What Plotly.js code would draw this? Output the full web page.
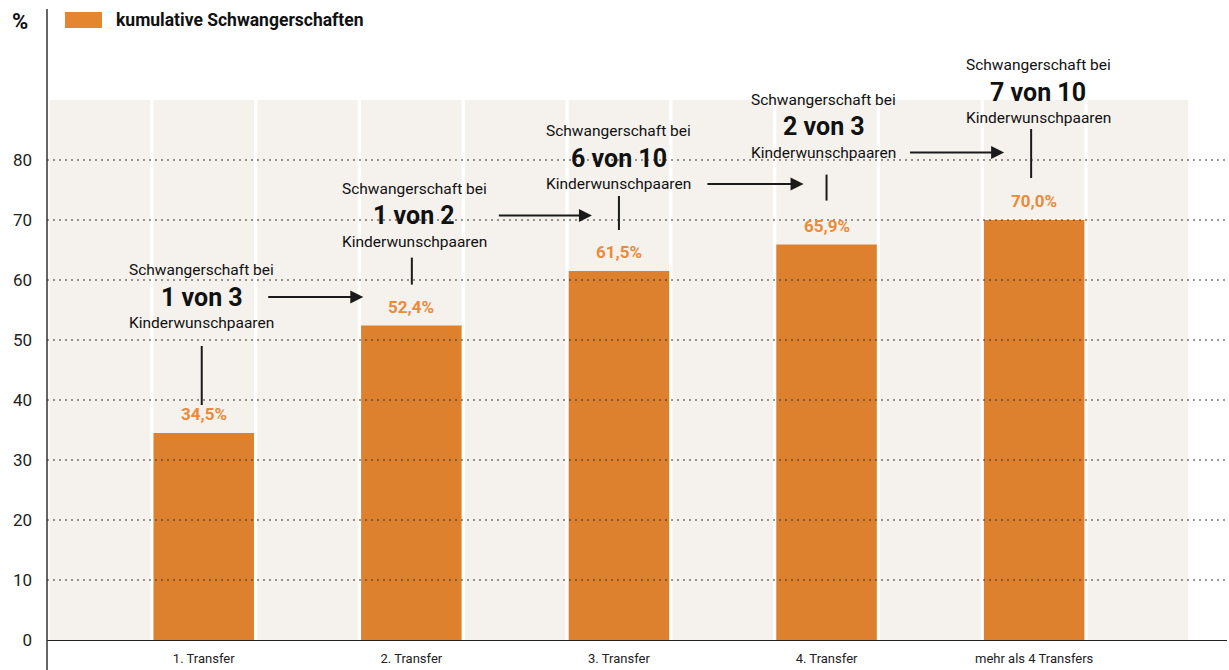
<!DOCTYPE html>
<html>
<head>
<meta charset="utf-8">
<script src="https://cdn.plot.ly/plotly-3.0.1.min.js"></script>
<style>html,body{margin:0;padding:0;background:#fff;}#chart{width:1229px;height:670px;}</style>
</head>
<body>
<div id="chart"></div>
<script>
// ---- data ----
const categories = ['1. Transfer', '2. Transfer', '3. Transfer', '4. Transfer', 'mehr als 4 Transfers'];
const values = [34.5, 52.4, 61.5, 65.9, 70.0];
const valueLabels = ['34,5%', '52,4%', '61,5%', '65,9%', '70,0%'];
const calloutTop = ['Schwangerschaft bei', 'Schwangerschaft bei', 'Schwangerschaft bei', 'Schwangerschaft bei', 'Schwangerschaft bei'];
const calloutBold = ['1 von 3', '1 von 2', '6 von 10', '2 von 3', '7 von 10'];
const calloutBottom = ['Kinderwunschpaaren', 'Kinderwunschpaaren', 'Kinderwunschpaaren', 'Kinderwunschpaaren', 'Kinderwunschpaaren'];
const yTickVals = [0, 10, 20, 30, 40, 50, 60, 70, 80];
const seriesName = 'kumulative Schwangerschaften';
const unitLabel = '%';

// ---- layout / style (pixels) ----
const W = 1229, H = 670;
const M = {l: 47, r: 2, t: 9, b: 30};
const plotW = W - M.l - M.r, plotH = H - M.t - M.b;
const xRange = [-0.755, 4.929];
const pxPerY = 6;
const yRange = [0, plotH / pxPerY];
const pxPerX = plotW / (xRange[1] - xRange[0]);
const bgTop = 90;
const colWidth = 0.484;
const barColor = '#DD812F';
const labelColor = '#E98B3A';
const beige = '#F5F2ED';
const ink = '#1a1a1a';
const FONT = 'Roboto, "Liberation Sans", sans-serif';

// callout geometry (pixels above bar top)
const boldLift = [136, 110, 113, 118, 128];
const textXShift = [-2, 3, 0, -3, 4];
const stemXShift = [-2, 0.5, 0, 0, -3];
const stemTop = [87, 68, 75, 70, 91];
const stemBottom = [28, 41, 41, 44, 42];
const arrowRow = ['bold', 'bold', 'bottom', 'bottom'];
const arrowTail = [63, 86, 87, 82];   // px right of bar centre
const arrowTip = [-48, -27, -23, -30]; // px relative to next bar centre

const pxX = p => (p - M.l) / plotW;
const pxY = p => (H - M.b - p) / plotH;

const shapes = [];
const annotations = [];

// beige background columns
for (let k = 0; k <= 10; k++) {
  const c = -0.5 + 0.5 * k;
  shapes.push({type: 'rect', layer: 'below', xref: 'x', yref: 'y',
    x0: c - colWidth / 2, x1: c + colWidth / 2, y0: 0, y1: bgTop,
    fillcolor: beige, line: {width: 0}});
}
// dotted gridlines above bars
yTickVals.filter(v => v > 0).forEach(v => {
  shapes.push({type: 'line', layer: 'above', xref: 'paper', yref: 'y',
    x0: 0, x1: 1, y0: v, y1: v, line: {color: '#333', width: 1, dash: '2px,4px'}});
});
// y axis line (extends below plot)
shapes.push({type: 'line', layer: 'above', xref: 'paper', yref: 'paper',
  x0: 0, x1: 0, y0: pxY(H), y1: 1, line: {color: '#333', width: 1.5}});
// legend swatch
shapes.push({type: 'rect', xref: 'paper', yref: 'paper',
  x0: pxX(65), x1: pxX(102), y0: pxY(28), y1: pxY(12),
  fillcolor: '#E3862F', line: {width: 0}});

annotations.push({xref: 'paper', yref: 'paper', x: pxX(114), y: pxY(20), xanchor: 'left', yanchor: 'middle',
  text: '<b>' + seriesName + '</b>', showarrow: false, font: {family: FONT, size: 17.5, color: '#111'}});
annotations.push({xref: 'paper', yref: 'paper', x: pxX(20), y: pxY(21), xanchor: 'center', yanchor: 'middle',
  text: '<b>' + unitLabel + '</b>', showarrow: false, font: {family: FONT, size: 22, color: '#111'}});

const rowY = (i, row) => {
  const base = values[i] + boldLift[i] / pxPerY;
  if (row === 'top') return base + 27 / pxPerY;
  if (row === 'bottom') return base - 26 / pxPerY;
  return base;
};

values.forEach((v, i) => {
  // value label
  annotations.push({xref: 'x', yref: 'y', x: i, y: v, yshift: 19, showarrow: false,
    text: '<b>' + valueLabels[i] + '</b>', font: {family: FONT, size: 17, color: labelColor}});
  // callout text
  annotations.push({xref: 'x', yref: 'y', x: i, y: rowY(i, 'top'), xshift: textXShift[i], showarrow: false,
    text: calloutTop[i], font: {family: FONT, size: 15.5, color: '#111'}});
  annotations.push({xref: 'x', yref: 'y', x: i, y: rowY(i, 'bold'), xshift: textXShift[i], showarrow: false,
    text: '<b>' + calloutBold[i] + '</b>', font: {family: FONT, size: 25, color: '#111'}});
  annotations.push({xref: 'x', yref: 'y', x: i, y: rowY(i, 'bottom'), xshift: textXShift[i], showarrow: false,
    text: calloutBottom[i], font: {family: FONT, size: 15.5, color: '#111'}});
  // stem
  const sx = i + stemXShift[i] / pxPerX;
  shapes.push({type: 'line', layer: 'above', xref: 'x', yref: 'y', x0: sx, x1: sx,
    y0: v + stemBottom[i] / pxPerY, y1: v + stemTop[i] / pxPerY, line: {color: ink, width: 2}});
  // arrow to next
  if (i < values.length - 1) {
    const ay = rowY(i, arrowRow[i]);
    annotations.push({xref: 'x', yref: 'y', axref: 'x', ayref: 'y',
      x: i + 1 + arrowTip[i] / pxPerX, y: ay, ax: i + arrowTail[i] / pxPerX, ay: ay,
      text: '', showarrow: true, arrowhead: 2, arrowsize: 1.3, arrowwidth: 2, arrowcolor: ink, standoff: 0});
  }
});

const trace = {
  type: 'bar', x: categories, y: values, name: seriesName,
  marker: {color: barColor, line: {width: 0}}, width: colWidth,
  hoverinfo: 'x+y', showlegend: false
};

const layout = {
  width: W, height: H, margin: M,
  paper_bgcolor: '#fff', plot_bgcolor: 'rgba(0,0,0,0)',
  showlegend: false,
  font: {family: FONT, color: '#222'},
  xaxis: {type: 'category', range: xRange, showgrid: false, zeroline: false,
    showline: true, linecolor: '#222', linewidth: 1.3, ticks: '',
    ticklabelstandoff: 6, tickfont: {family: FONT, size: 13, color: '#222'}},
  yaxis: {range: yRange, tickvals: yTickVals, ticktext: yTickVals.map(String), showgrid: false,
    zeroline: false, showline: false, ticks: '', ticklabelstandoff: 14,
    tickfont: {family: FONT, size: 17, color: '#222'}},
  shapes: shapes, annotations: annotations
};

Plotly.newPlot('chart', [trace], layout, {displayModeBar: false, staticPlot: true});
</script>
</body>
</html>
